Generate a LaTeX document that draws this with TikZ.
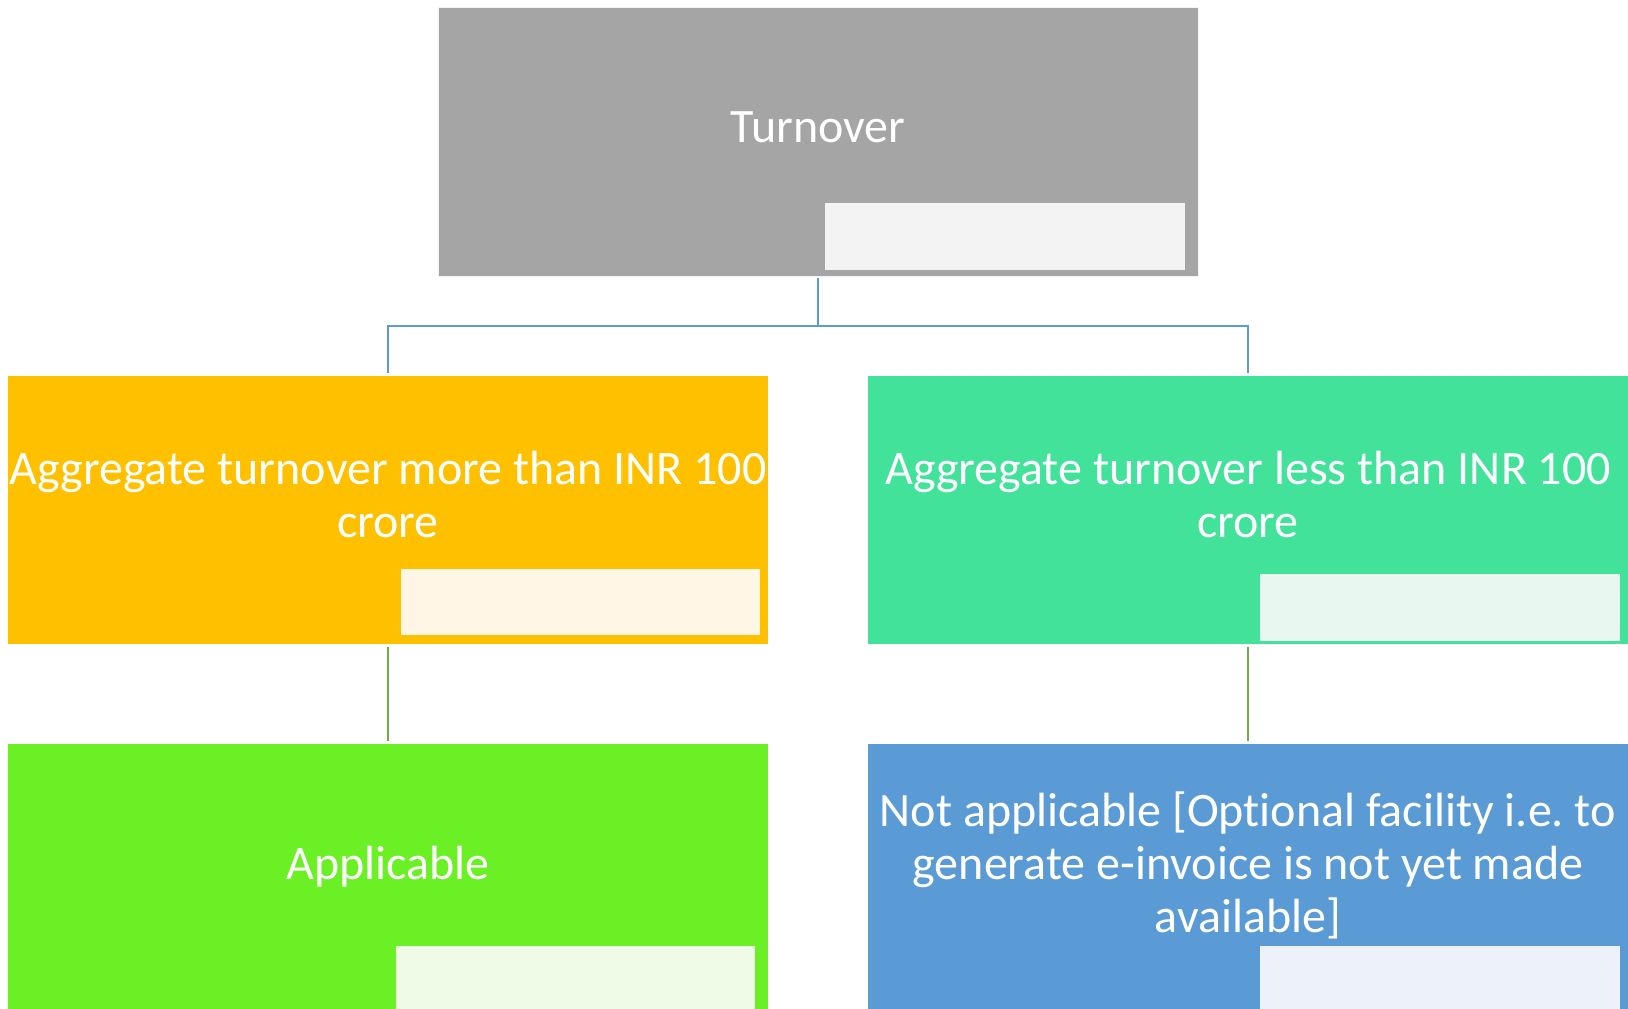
\documentclass[tikz,border=0pt]{standalone}
\usepackage{fontspec}
\setmainfont{Carlito}[Ligatures=CommonOff]
\frenchspacing
\definecolor{topgray}{HTML}{A5A5A5}
\definecolor{topinner}{HTML}{F3F3F3}
\definecolor{amber}{HTML}{FFC000}
\definecolor{amberinner}{HTML}{FFF6E5}
\definecolor{mint}{HTML}{42E29B}
\definecolor{mintinner}{HTML}{E8F8F0}
\definecolor{lime}{HTML}{6AF024}
\definecolor{limeinner}{HTML}{EFFAE7}
\definecolor{steel}{HTML}{5B9BD5}
\definecolor{steelinner}{HTML}{EDF2FA}
\definecolor{leaf}{HTML}{70AD47}
\begin{document}
\begin{tikzpicture}[x=1pt,y=-1pt,
  box/.style={rectangle,inner sep=0pt,outer sep=0pt,anchor=north west},
  tag/.style={rectangle,inner sep=0pt,outer sep=0pt,anchor=north west},
  lbl/.style={text=white,align=center,inner sep=0pt,anchor=base,
    font=\fontsize{48}{53}\selectfont},
  blueline/.style={draw=steel,line width=2.2pt},
  greenline/.style={draw=leaf,line width=2.2pt}]
\useasboundingbox (0,0) rectangle (1628,1009);

% level 0
\node[box,fill=topgray,draw=white!85!topgray,line width=1pt,minimum width=760pt,minimum height=269pt] (top) at (438,7) {};
\node[tag,fill=topinner,minimum width=360pt,minimum height=67pt] (topTag) at (825,203) {};
\node[lbl] (topText) at (818,142) {Turnover};

% level 1 (label anchors sit on the last line's baseline)
\node[box,fill=amber,minimum width=760pt,minimum height=268pt] (midL) at (8,376) {};
\node[tag,fill=amberinner,minimum width=359pt,minimum height=66pt] (midLTag) at (401,569) {};
\node[lbl] (midLText) at (388,537) {Aggregate turnover more than INR 100\\crore};

\node[box,fill=mint,minimum width=760pt,minimum height=268pt] (midR) at (868,376) {};
\node[tag,fill=mintinner,minimum width=360pt,minimum height=67pt] (midRTag) at (1260,574) {};
\node[lbl] (midRText) at (1248,537) {Aggregate turnover less than INR 100\\crore};

% level 2
\node[box,fill=lime,minimum width=760pt,minimum height=265pt] (botL) at (8,744) {};
\node[tag,fill=limeinner,minimum width=359pt,minimum height=63pt] (botLTag) at (396,946) {};
\node[lbl] (botLText) at (388,879) {Applicable};

\node[box,fill=steel,minimum width=760pt,minimum height=265pt] (botR) at (868,744) {};
\node[tag,fill=steelinner,minimum width=360pt,minimum height=63pt] (botRTag) at (1260,946) {};
\node[lbl] (botRText) at (1248,932) {Not applicable [Optional facility i.e. to\\generate e-invoice is not yet made\\available]};

% connectors
\coordinate (fork) at ([yshift=-50pt]top.south);
\draw[blueline] ([yshift=-2pt]top.south) -- (fork);
\draw[blueline] (fork) -| ([yshift=3pt]midL.north);
\draw[blueline] (fork) -| ([yshift=3pt]midR.north);
\draw[greenline] ([yshift=-3pt]midL.south) -- ([yshift=3pt]botL.north);
\draw[greenline] ([yshift=-3pt]midR.south) -- ([yshift=3pt]botR.north);
\end{tikzpicture}
\end{document}
